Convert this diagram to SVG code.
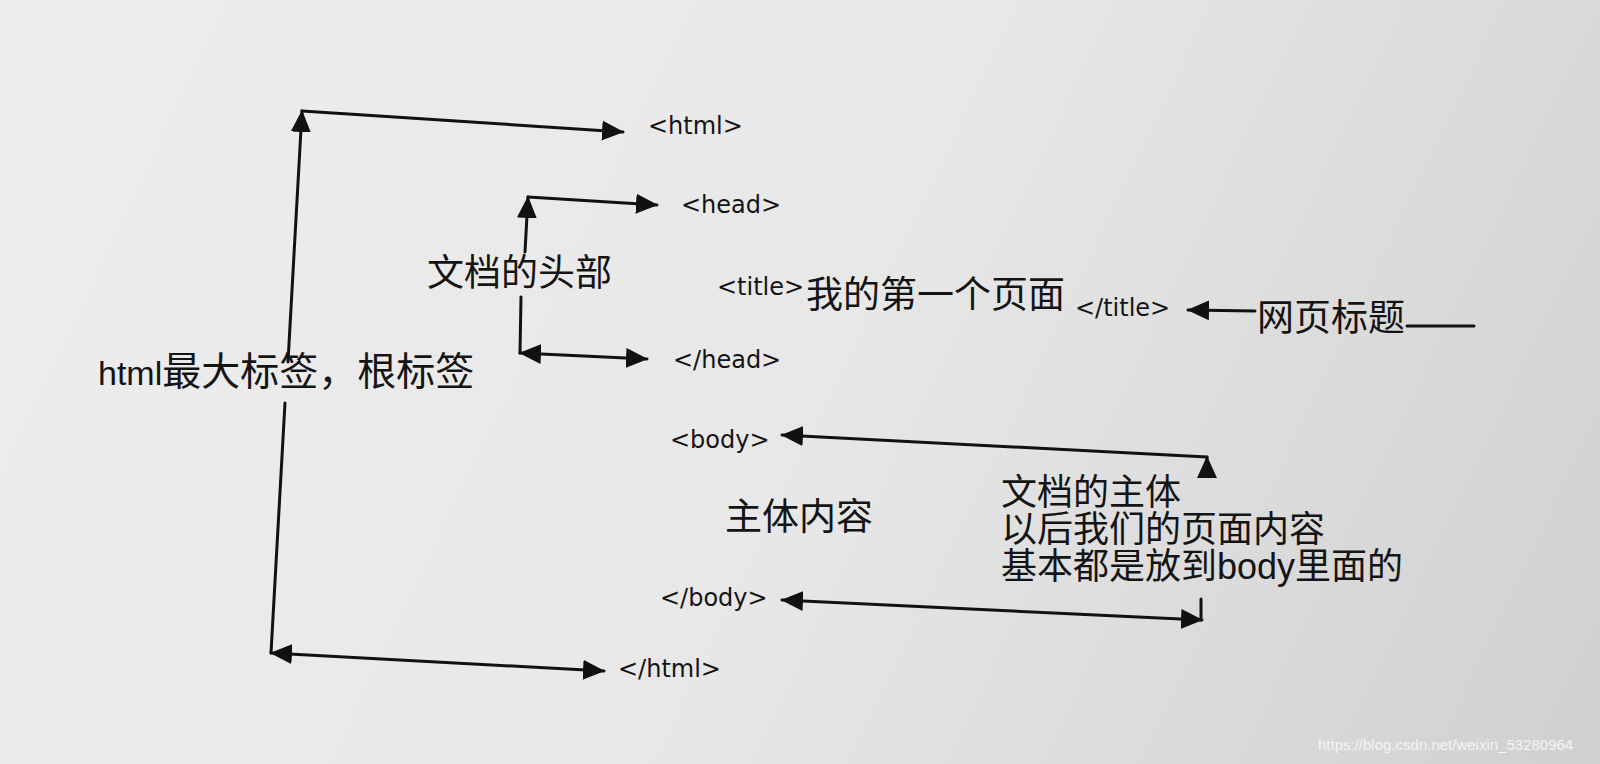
<svg xmlns="http://www.w3.org/2000/svg" width="1600" height="764" viewBox="0 0 1600 764">
<defs>
<linearGradient id="bg" x1="0" y1="0" x2="1600" y2="764" gradientUnits="userSpaceOnUse">
<stop offset="0" stop-color="#ededed"/>
<stop offset="0.5" stop-color="#e8e8e8"/>
<stop offset="1" stop-color="#d0d0d0"/>
</linearGradient>
<marker id="ah" markerUnits="userSpaceOnUse" markerWidth="22" markerHeight="20" refX="21" refY="10" orient="auto-start-reverse" viewBox="0 0 22 20">
<path d="M0,0 L22,10 L0,20 z" fill="#111"/>
</marker>
<style>
.tag{font-family:"DejaVu Sans","Noto Sans CJK SC",sans-serif;font-size:24px;fill:#141414}
.cn{font-family:"Liberation Sans","Noto Sans CJK SC",sans-serif;font-size:37px;fill:#141414}
.sm{font-size:36px}
.lg{font-size:39px}
.lat{font-size:34px}
.ln{stroke:#111;stroke-width:3;fill:none;stroke-linecap:round}
.wm{font-family:"Liberation Sans",sans-serif;font-size:15px;fill:#f4f4f4}
</style>
</defs>
<rect width="1600" height="764" fill="url(#bg)"/>

<g id="connectors">
<line class="ln" x1="288" y1="362" x2="302" y2="111" marker-end="url(#ah)"/>
<line class="ln" x1="302" y1="111" x2="623" y2="132" marker-end="url(#ah)"/>
<line class="ln" x1="285" y1="403" x2="271" y2="653"/>
<line class="ln" x1="271" y1="653" x2="604" y2="671" marker-start="url(#ah)" marker-end="url(#ah)"/>

<line class="ln" x1="525" y1="252" x2="528" y2="197" marker-end="url(#ah)"/>
<line class="ln" x1="528" y1="197" x2="657" y2="205" marker-end="url(#ah)"/>
<line class="ln" x1="521" y1="297" x2="520" y2="353"/>
<line class="ln" x1="520" y1="353" x2="647" y2="359" marker-start="url(#ah)" marker-end="url(#ah)"/>

<line class="ln" x1="1207" y1="457" x2="782" y2="435" marker-end="url(#ah)"/>
<line class="ln" x1="1207" y1="470" x2="1207" y2="457" marker-end="url(#ah)"/>
<line class="ln" x1="782" y1="600" x2="1202" y2="620" marker-start="url(#ah)" marker-end="url(#ah)"/>
<line class="ln" x1="1201" y1="599" x2="1201" y2="620"/>

<line class="ln" x1="1255" y1="311" x2="1188" y2="310" marker-end="url(#ah)"/>
<line class="ln" x1="1407" y1="326" x2="1474" y2="326"/>
</g>

<g id="html-open"><text class="tag" x="648" y="134">&lt;html&gt;</text></g>
<g id="head-open"><text class="tag" x="681" y="213">&lt;head&gt;</text></g>
<g id="title"><text class="tag" x="717" y="295">&lt;title&gt;</text><text class="cn" x="806" y="308">我的第一个页面</text><text class="tag" x="1075" y="316">&lt;/title&gt;</text></g>
<g id="head-close"><text class="tag" x="673" y="368">&lt;/head&gt;</text></g>
<g id="body-open"><text class="tag" x="670" y="448">&lt;body&gt;</text></g>
<g id="body-close"><text class="tag" x="660" y="606">&lt;/body&gt;</text></g>
<g id="html-close"><text class="tag" x="618" y="677">&lt;/html&gt;</text></g>

<g id="label-root"><text class="cn lg" x="98" y="385"><tspan class="lat">html</tspan>最大标签，根标签</text></g>
<g id="label-head"><text class="cn" x="427" y="286">文档的头部</text></g>
<g id="label-title"><text class="cn" x="1257" y="331">网页标题</text></g>
<g id="label-content"><text class="cn" x="725" y="530">主体内容</text></g>
<g id="label-body">
<text class="cn sm" x="1001" y="505">文档的主体</text>
<text class="cn sm" x="1001" y="542">以后我们的页面内容</text>
<text class="cn sm" x="1001" y="579">基本都是放到body里面的</text>
</g>

<text class="wm" x="1318" y="750">https://blog.csdn.net/weixin_53280964</text>
</svg>
